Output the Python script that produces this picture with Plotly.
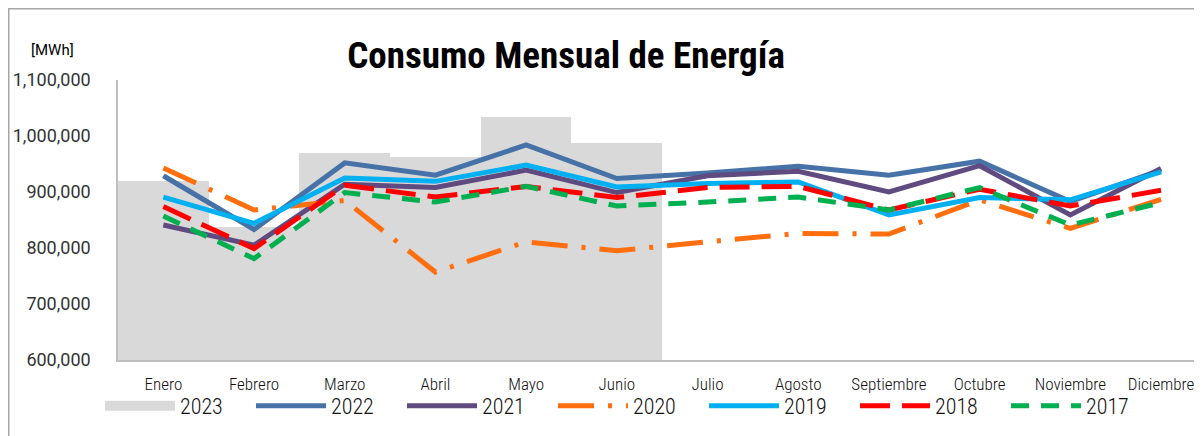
import plotly.graph_objects as go

meses = ["Enero", "Febrero", "Marzo", "Abril", "Mayo", "Junio", "Julio",
         "Agosto", "Septiembre", "Octubre", "Noviembre", "Diciembre"]

y2023 = [920000, 838000, 969000, 963000, 1034000, 988000]
y2022 = [929000, 833000, 952000, 930000, 984000, 924000, 934000, 946000, 930000, 955000, 883000, 939000]
y2021 = [841000, 805000, 914000, 908000, 939000, 899000, 929000, 937000, 900000, 947000, 859000, 942000]
y2020 = [943000, 868000, 885000, 757000, 811000, 795000, 811000, 826000, 825000, 886000, 835000, 887000]
y2019 = [891000, 844000, 925000, 919000, 948000, 909000, 915000, 918000, 859000, 890000, 886000, 936000]
y2018 = [874000, 799000, 912000, 891000, 910000, 890000, 908000, 910000, 868000, 905000, 875000, 903000]
y2017 = [857000, 781000, 899000, 882000, 910000, 875000, 882000, 891000, 868000, 908000, 841000, 881000]

narrow = "Roboto Condensed, sans-serif"

# the page adds an 8px body margin, so the plot area sits at figure
# x 110..1202 and y 72..352
L, T, PH, PW = 110, 72, 280, 1092

fig = go.Figure()

fig.add_trace(go.Bar(
    name="2023", x=meses[:len(y2023)], y=y2023,
    marker=dict(color="#D9D9D9", line=dict(width=0)),
    showlegend=False,
))
# wide grey swatch for the legend, like the original
fig.add_trace(go.Scatter(
    name="2023", x=[None], y=[None], mode="lines",
    line=dict(color="#D9D9D9", width=12),
))

series = [
    ("2022", y2022, "#4672A8", "solid"),
    ("2021", y2021, "#5F4B80", "solid"),
    ("2020", y2020, "#FF6F0F", "36px,14px,4px,14px"),
    ("2019", y2019, "#00B0F0", "solid"),
    ("2018", y2018, "#FF0000", "30px,12px"),
    ("2017", y2017, "#00B050", "18px,12px"),
]
for name, vals, color, dash in series:
    fig.add_trace(go.Scatter(
        name=name, x=meses, y=vals, mode="lines",
        line=dict(color=color, width=5, dash=dash),
    ))

fig.update_layout(
    width=1202,
    height=436,
    paper_bgcolor="white",
    plot_bgcolor="white",
    bargap=0,
    margin=dict(l=L, r=1202 - L - PW, t=T, b=436 - T - PH),
    title=dict(
        text="<b>Consumo Mensual de Energía</b>",
        x=558 / 1202, xanchor="center",
        y=1 - 47 / 436, yanchor="middle",
        font=dict(family=narrow, size=37, color="black"),
    ),
    font=dict(family="Roboto", color="#222222"),
    xaxis=dict(
        range=[-0.5, 11.54],
        showgrid=False,
        showline=True, linecolor="#BFBFBF", linewidth=2,
        tickfont=dict(family=narrow, size=17, color="#111111", weight=300),
        ticks="outside", ticklen=8, tickcolor="rgba(0,0,0,0)",
    ),
    yaxis=dict(
        range=[600000, 1100000],
        dtick=100000,
        tickformat=",",
        showgrid=False,
        zeroline=False,
        showline=True, linecolor="#BFBFBF", linewidth=1.5,
        tickfont=dict(family="Roboto", size=18, color="#333333", weight=400),
        ticks="outside", ticklen=22, tickcolor="rgba(0,0,0,0)",
    ),
    legend=dict(
        orientation="h",
        x=(92 - L) / PW, xanchor="left",
        y=-0.164, yanchor="middle",
        font=dict(family=narrow, size=22, color="#111111", weight=300),
        itemwidth=70,
        entrywidth=66,
        traceorder="normal",
        bgcolor="rgba(0,0,0,0)",
    ),
    shapes=[dict(
        type="rect", xref="paper", yref="paper",
        x0=(0.75 - L) / PW, x1=1.1,
        y0=-0.5, y1=(T + PH - 0.75) / PH,
        line=dict(color="#A6A6A6", width=1.5),
        layer="below",
    )],
    annotations=[dict(
        text="[MWh]", xref="paper", yref="paper",
        x=(44 - L) / PW, y=(T + PH - 42) / PH,
        xanchor="center", yanchor="middle", showarrow=False,
        font=dict(family="Roboto", size=15, color="black"),
    )],
)

fig.write_html("out.html")
